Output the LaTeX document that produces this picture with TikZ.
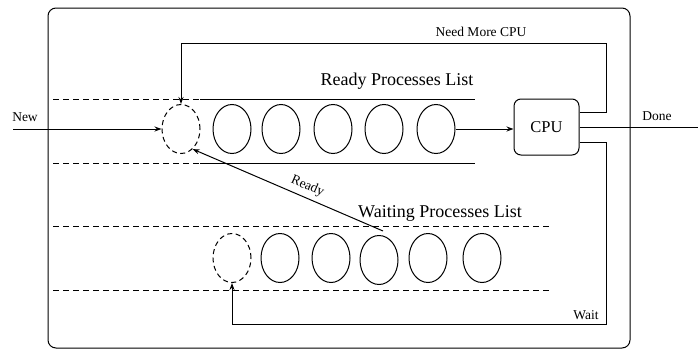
\documentclass[tikz,border=0pt]{standalone}
\usepackage{fontspec}
\setmainfont{Liberation Serif}
\usetikzlibrary{arrows.meta,shapes.geometric}
\tikzset{
  ln/.style={line width=1pt},
  dsh/.style={line width=1pt, dash pattern=on 6pt off 4pt},
  proc/.style={ellipse, draw, line width=1pt, minimum width=38pt, minimum height=49pt, inner sep=0pt},
  slot/.style={proc, dash pattern=on 5pt off 3.5pt},
  arr/.style={ln, -{Stealth[length=7pt,width=5pt]}},
  big/.style={font=\fontsize{18}{20}\selectfont},
  small/.style={font=\fontsize{13.5}{15}\selectfont},
  cpubox/.style={draw, line width=1pt, rounded corners=7pt, minimum width=65pt, minimum height=56pt, inner sep=0pt, font=\fontsize{16.5}{18}\selectfont}
}
\begin{document}
\begin{tikzpicture}[x=1pt,y=-1pt]
\useasboundingbox (0,0) rectangle (698,351);
% outer frame
\draw[ln, rounded corners=8pt] (48,8) rectangle (630,348);

% ready queue rails
\draw[dsh] (53,99) -- (200,99);
\draw[dsh] (53,163) -- (200,163);
\draw[ln] (200,99) -- (475,99);
\draw[ln] (200,163) -- (475,163);
\node[big, anchor=base] (rlab) at (397,85) {Ready Processes List};

% ready queue entries
\node[slot] (r0) at (181,129) {};
\node[proc] (r1) at (232,129) {};
\node[proc] (r2) at (281,129) {};
\node[proc] (r3) at (333,129) {};
\node[proc] (r4) at (384,129) {};
\node[proc] (r5) at (436,129) {};

% waiting queue rails
\draw[dsh] (53,226) -- (550,226);
\draw[dsh] (53,290) -- (550,290);
\node[big, anchor=base] (wlab) at (440,217) {Waiting Processes List};

% waiting queue entries
\node[slot] (w0) at (232,258) {};
\node[proc] (w1) at (280,258) {};
\node[proc] (w2) at (331,258) {};
\node[proc] (w3) at (379,260) {};
\node[proc] (w4) at (428,258) {};
\node[proc] (w5) at (482,258) {};

% processor
\node[cpubox] (cpu) at (546.5,127) {CPU};

% free ends
\coordinate (newin) at (13,129);
\coordinate (doneout) at (698,127);

% connectors
\draw[arr] (newin) -- (r0.west);
\node[small, anchor=base] (newlab) at (25,121) {New};
\draw[arr] (r5.east) -- (r5.east -| cpu.west);
\draw[ln] (cpu.east) -- (doneout);
\node[small, anchor=base] (donelab) at (657,120) {Done};

\draw[arr] ([yshift=15pt]cpu.east) -- (606,112) |- (r0.north |- 0,43) -- (r0.north);
\node[small, anchor=base] (nmlab) at (481,36) {Need More CPU};

\draw[arr] ([yshift=-15pt]cpu.east) -- (606,142) |- (w0.south |- 0,324) -- (w0.south);
\node[small, anchor=base] (waitlab) at (586,319) {Wait};

\draw[arr] ([shift={(4,-4)}]w3.north) -- node[small, sloped, above, pos=0.42, inner sep=4.5pt] (readylab) {Ready} (r0.-60);
\end{tikzpicture}
\end{document}
